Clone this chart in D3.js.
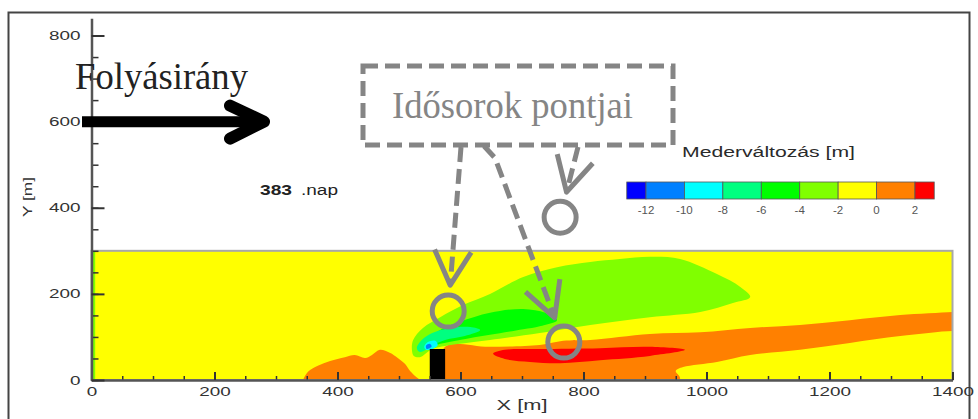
<!DOCTYPE html>
<html>
<head>
<meta charset="utf-8">
<script src="https://cdn.jsdelivr.net/npm/d3@7"></script>
<style>
  html, body { margin: 0; padding: 0; background: #fff; }
  svg { display: block; }
</style>
</head>
<body>
<div class="chart"></div>
<script>
const xTicks = [0, 200, 400, 600, 800, 1000, 1200, 1400];
const yTicks = [0, 200, 400, 600, 800];
const levels = [-12, -10, -8, -6, -4, -2, 0, 2];
const levelColors = ['#0000ff', '#0080ff', '#00ffff', '#00ff80', '#00ff00', '#80ff00', '#ffff00', '#ff8000', '#ff0000'];

// contour bands, outlines in metres [x, y]
const edgeBand = [[-10, -10], [-10, 310], [6, 310], [6, -10]];
const orangeLeft = [[340, -15], [344, 0], [352, 19], [368, 33], [388, 44], [412, 53], [428, 58], [445, 51], [456, 58], [469, 70], [485, 63], [498, 51], [510, 37], [518, 21], [528, 7], [534, 0], [536, -15]];
const orangeMain = [[575, -15], [575, 77], [648, 77], [729, 81], [767, 91], [811, 93], [908, 107], [990, 111], [1071, 121], [1152, 128], [1233, 139], [1315, 151], [1400, 158], [1420, 160], [1420, 112], [1400, 114], [1315, 102], [1233, 86], [1152, 70], [1071, 58], [1017, 42], [962, 30], [950, 21], [957, 5], [950, -15]];
const redCore = [[653, 61], [672, 70], [729, 72], [827, 74], [908, 77], [965, 70], [908, 56], [827, 46], [762, 39], [713, 42], [672, 49]];
const lightGreen = [[521, 70], [523, 93], [539, 121], [567, 146], [604, 174], [648, 200], [702, 239], [757, 262], [811, 274], [859, 281], [908, 286], [957, 281], [1017, 246], [1055, 216], [1071, 193], [1043, 179], [990, 158], [908, 146], [811, 128], [729, 109], [648, 93], [599, 84], [575, 79], [554, 72], [534, 53], [524, 56]];
const green = [[547, 93], [567, 116], [599, 135], [648, 156], [702, 165], [738, 156], [757, 139], [729, 125], [702, 118], [648, 105], [599, 93], [567, 84], [554, 79]];
const springGreen = [[529, 74], [537, 93], [554, 109], [583, 121], [616, 123], [632, 116], [607, 102], [575, 93], [555, 81], [544, 70], [534, 65]];
const cyanSpot = [[541, 77], [547, 88], [559, 91], [563, 81], [554, 72], [544, 70]];
const blueSpot = [[545, 72], [544, 80], [550, 84], [553, 78]];

const domainX = [0, 1400];
const domainY = [0, 300];
const pierX = [550, 575];
const pierTop = 72;

// time series sample points
const sampleX = [580, 768, 762];
const sampleY = [160, 88, 378];

const bands = [
    { pts: edgeBand, color: levelColors[5], straight: true },
    { pts: orangeLeft, color: levelColors[7] },
    { pts: orangeMain, color: levelColors[7] },
    { pts: redCore, color: levelColors[8] },
    { pts: lightGreen, color: levelColors[5] },
    { pts: green, color: levelColors[4] },
    { pts: springGreen, color: levelColors[3] },
    { pts: cyanSpot, color: levelColors[2] },
    { pts: blueSpot, color: levelColors[1] }
];

const width = 978;
const height = 419;
const grey = '#858585';
const sans = '"Liberation Sans", Arial, sans-serif';
const serif = '"Liberation Serif", "Times New Roman", serif';

const x = d3.scaleLinear().domain([0, 1400]).range([91.5, 952.5]);
const y = d3.scaleLinear().domain([0, 840]).range([380, 18.3]);

const svg = d3.select('.chart')
    .append('svg')
    .attr('width', width)
    .attr('height', height);

// outer frame
svg.append('rect')
    .attr('x', 8.5).attr('y', 12.5)
    .attr('width', 961).attr('height', 430)
    .attr('fill', 'none')
    .attr('stroke', '#444')
    .attr('stroke-width', 2);

svg.append('clipPath').attr('id', 'dom')
    .append('rect')
    .attr('x', x(domainX[0])).attr('y', y(domainY[1]))
    .attr('width', x(domainX[1]) - x(domainX[0]))
    .attr('height', y(domainY[0]) - y(domainY[1]));

const field = svg.append('g').attr('clip-path', 'url(#dom)');

field.append('rect')
    .attr('x', x(domainX[0])).attr('y', y(domainY[1]))
    .attr('width', x(domainX[1]) - x(domainX[0]))
    .attr('height', y(domainY[0]) - y(domainY[1]))
    .attr('fill', levelColors[6]);

const outline = d3.line()
    .x(d => x(d[0]))
    .y(d => y(d[1]))
    .curve(d3.curveCatmullRomClosed.alpha(0.5));

const straightOutline = d3.line()
    .x(d => x(d[0]))
    .y(d => y(d[1]))
    .curve(d3.curveLinearClosed);

field.selectAll('path.band')
    .data(bands)
    .enter().append('path')
    .attr('class', 'band')
    .attr('d', d => d.straight ? straightOutline(d.pts) : outline(d.pts))
    .attr('fill', d => d.color);

field.append('rect')
    .attr('x', x(pierX[0])).attr('y', y(pierTop))
    .attr('width', x(pierX[1]) - x(pierX[0]))
    .attr('height', y(0) - y(pierTop))
    .attr('fill', '#000');

svg.append('rect')
    .attr('x', x(domainX[0])).attr('y', y(domainY[1]))
    .attr('width', x(domainX[1]) - x(domainX[0]))
    .attr('height', y(domainY[0]) - y(domainY[1]))
    .attr('fill', 'none')
    .attr('stroke', '#a8a8a8')
    .attr('stroke-width', 2);

// axes
function styleAxis(g) {
    g.select('.domain').attr('stroke', '#555').attr('stroke-width', 2.5);
    g.selectAll('.tick line').attr('stroke', '#333').attr('stroke-width', 2);
    g.selectAll('.tick text')
        .attr('fill', '#333')
        .style('font-family', sans)
        .style('font-size', '12.5px')
        .attr('textLength', function () { return this.textContent.length * 10.5; })
        .attr('lengthAdjust', 'spacingAndGlyphs');
}

const minorX = d3.range(0, 1401, 50);
const minorY = d3.range(0, 801, 50);

svg.append('g')
    .attr('transform', `translate(0,${y(0)})`)
    .call(d3.axisBottom(x).tickValues(minorX).tickSize(-4).tickSizeOuter(0).tickFormat(''))
    .call(g => g.select('.domain').remove())
    .call(g => g.selectAll('.tick line').attr('stroke', '#333').attr('stroke-width', 1.5));

svg.append('g')
    .attr('transform', `translate(${x(0)},0)`)
    .call(d3.axisLeft(y).tickValues(minorY).tickSize(-7).tickSizeOuter(0).tickFormat(''))
    .call(g => g.select('.domain').remove())
    .call(g => g.selectAll('.tick line').attr('stroke', '#333').attr('stroke-width', 1.5));

svg.append('g')
    .attr('transform', `translate(0,${y(0)})`)
    .call(d3.axisBottom(x).tickValues(xTicks).tickSize(-8).tickSizeOuter(0).tickPadding(7).tickFormat(d3.format('d')))
    .call(styleAxis);

svg.append('g')
    .attr('transform', `translate(${x(0)},0)`)
    .call(d3.axisLeft(y).tickValues(yTicks).tickSize(-13).tickSizeOuter(0).tickPadding(11).tickFormat(d3.format('d')))
    .call(styleAxis);

svg.append('text')
    .attr('x', 522).attr('y', 410)
    .attr('text-anchor', 'middle')
    .attr('textLength', 51).attr('lengthAdjust', 'spacingAndGlyphs')
    .style('font-family', sans).style('font-size', '14px')
    .attr('fill', '#333')
    .text('X [m]');

svg.append('text')
    .attr('transform', 'translate(32,197) rotate(-90)')
    .attr('text-anchor', 'middle')
    .attr('textLength', 40).attr('lengthAdjust', 'spacingAndGlyphs')
    .style('font-family', sans).style('font-size', '13px')
    .attr('fill', '#333')
    .text('Y [m]');

svg.append('text')
    .attr('x', 260).attr('y', 195)
    .attr('textLength', 32).attr('lengthAdjust', 'spacingAndGlyphs')
    .style('font-family', sans).style('font-size', '14px').style('font-weight', 'bold')
    .attr('fill', '#222')
    .text('383');

svg.append('text')
    .attr('x', 301).attr('y', 195)
    .attr('textLength', 37).attr('lengthAdjust', 'spacingAndGlyphs')
    .style('font-family', sans).style('font-size', '14px')
    .attr('fill', '#222')
    .text('.nap');

// flow direction
svg.append('text')
    .attr('x', 75).attr('y', 89)
    .attr('textLength', 173).attr('lengthAdjust', 'spacingAndGlyphs')
    .style('font-family', serif).style('font-size', '37px')
    .attr('fill', '#222')
    .text('Folyásirány');

svg.append('line')
    .attr('x1', 82).attr('y1', y(600)).attr('x2', 262).attr('y2', y(600))
    .attr('stroke', '#000').attr('stroke-width', 11);

svg.append('path')
    .attr('d', `M230,${y(600) - 16} L264,${y(600)} L230,${y(600) + 17}`)
    .attr('fill', 'none')
    .attr('stroke', '#000').attr('stroke-width', 12)
    .attr('stroke-linecap', 'round').attr('stroke-linejoin', 'round');

// legend
const lx = d3.scaleLinear().domain([-12, 2]).range([646, 915]);
const cellEdges = [-13].concat(levels, [3]);

svg.append('text')
    .attr('x', 682).attr('y', 157)
    .attr('textLength', 173).attr('lengthAdjust', 'spacingAndGlyphs')
    .style('font-family', sans).style('font-size', '14px')
    .attr('fill', '#2a2a2a')
    .text('Mederváltozás [m]');

svg.append('g')
    .selectAll('rect')
    .data(levelColors)
    .enter().append('rect')
    .attr('x', (d, i) => lx(cellEdges[i]))
    .attr('y', 182)
    .attr('width', (d, i) => lx(cellEdges[i + 1]) - lx(cellEdges[i]))
    .attr('height', 17)
    .attr('fill', d => d)
    .attr('stroke', '#555')
    .attr('stroke-width', 0.8);

svg.append('g')
    .selectAll('text')
    .data(levels)
    .enter().append('text')
    .attr('x', d => lx(d))
    .attr('y', 214)
    .attr('text-anchor', 'middle')
    .style('font-family', sans).style('font-size', '11.5px')
    .attr('fill', '#555')
    .text(d => d);

// time series annotation
svg.append('rect')
    .attr('x', 363).attr('y', 66)
    .attr('width', 310).attr('height', 79)
    .attr('fill', 'none')
    .attr('stroke', grey).attr('stroke-width', 5)
    .attr('stroke-dasharray', '15 7');

svg.append('text')
    .attr('x', 392).attr('y', 118)
    .attr('textLength', 241).attr('lengthAdjust', 'spacingAndGlyphs')
    .style('font-family', serif).style('font-size', '37px')
    .attr('fill', grey)
    .text('Idősorok pontjai');

const leaderStarts = [[[461, 147]], [[484, 146], [495, 158]], [[578, 147]]];

const samples = sampleX.map((d, i) => ({ cx: x(d), cy: y(sampleY[i]), from: leaderStarts[i] }));

samples.forEach(s => {
    const last = s.from[s.from.length - 1];
    const dx = s.cx - last[0];
    const dy = s.cy - last[1];
    const len = Math.hypot(dx, dy);
    const ux = dx / len, uy = dy / len;
    const tip = [s.cx - ux * 26, s.cy - uy * 26];
    const pts = s.from.concat([tip]);

    svg.append('path')
        .attr('d', d3.line()(pts))
        .attr('fill', 'none')
        .attr('stroke', grey).attr('stroke-width', 5)
        .attr('stroke-dasharray', '15 7');

    const back = Math.atan2(-uy, -ux);
    const arm = a => [tip[0] + 39 * Math.cos(back + a), tip[1] + 39 * Math.sin(back + a)];
    svg.append('path')
        .attr('d', d3.line()([arm(0.49), tip, arm(-0.49)]))
        .attr('fill', 'none')
        .attr('stroke', grey).attr('stroke-width', 5)
        .attr('stroke-linejoin', 'round');
});

svg.selectAll('circle.sample')
    .data(samples)
    .enter().append('circle')
    .attr('class', 'sample')
    .attr('cx', d => d.cx)
    .attr('cy', d => d.cy)
    .attr('r', 16)
    .attr('fill', 'none')
    .attr('stroke', grey)
    .attr('stroke-width', 5);
</script>
</body>
</html>
